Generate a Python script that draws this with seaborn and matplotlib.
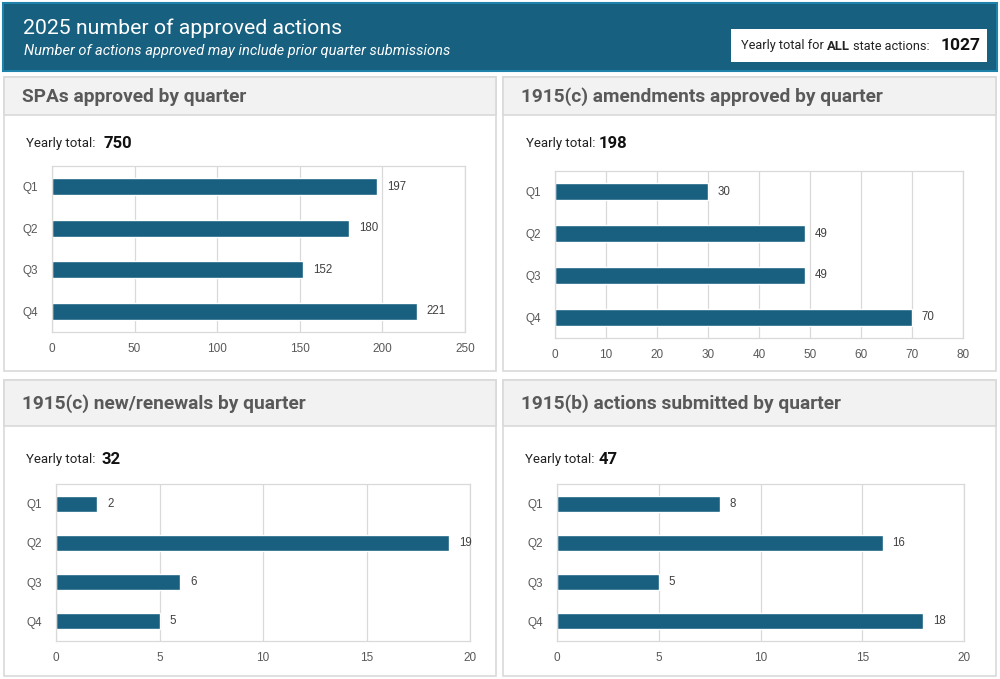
import matplotlib
matplotlib.use("Agg")
import matplotlib.pyplot as plt
from matplotlib.patches import Rectangle
from matplotlib.text import Annotation
import seaborn as sns

# data
quarters = ["Q1", "Q2", "Q3", "Q4"]
spa_vals = [197, 180, 152, 221]
amend_vals = [30, 49, 49, 70]
renew_vals = [2, 19, 6, 5]
b_vals = [8, 16, 5, 18]

panel_titles = ["SPAs approved by quarter",
                "1915(c) amendments approved by quarter",
                "1915(c) new/renewals by quarter",
                "1915(b) actions submitted by quarter"]
yearly_totals = [750, 198, 32, 47]
all_total = 1027
x_limits = [250, 80, 20, 20]
x_steps = [50, 10, 5, 5]

main_title = "2025 number of approved actions"
sub_title = "Number of actions approved may include prior quarter submissions"

BAR = "#185f80"
HEAD = "#17607f"
GRID = "#d9d9d9"

sns.set_theme(style="white")
plt.rcParams["font.family"] = ["Roboto", "DejaVu Sans"]

W, H = 1000, 679
fig = plt.figure(figsize=(W / 100, H / 100), dpi=100)


def fx(x):
    return x / W


def fy(y):
    return 1 - y / H


def box(x0, y0, x1, y1, **kw):
    fig.patches.append(Rectangle((fx(x0), fy(y1)), fx(x1) - fx(x0), fy(y0) - fy(y1),
                                 transform=fig.transFigure, figure=fig, zorder=-1, **kw))


def after(prev, s, gap, **kw):
    # place text right after another text, gap in points
    a = Annotation(s, xy=(1, 0.5), xycoords=prev, xytext=(gap, 0),
                   textcoords="offset points", va="center", ha="left", **kw)
    fig.add_artist(a)
    return a


# header
box(3, 3, 997, 71, facecolor=HEAD, edgecolor="#1f82ab", linewidth=1.5)
fig.text(fx(23), fy(28), main_title, color="white", fontsize=15.3, va="center")
fig.text(fx(24), fy(51), sub_title, color="white", fontsize=10.5, style="italic", va="center")
box(731, 29, 987, 62, facecolor="white", edgecolor="none")
t1 = fig.text(fx(741), fy(46), "Yearly total for", fontsize=9.2, va="center", color="#222222")
t2 = after(t1, "ALL", 2.2, fontsize=9.4, weight="bold", color="#222222")
t3 = after(t2, "state actions:", 2.2, fontsize=9.2, color="#222222")
fig.text(fx(941), fy(46), str(all_total), fontsize=12.5, va="center", weight="bold", color="#111111")

# panel frames (x0, y0, x1, y1, band bottom)
panels = [(4, 77, 496, 371, 115),
          (503, 77, 996, 371, 115),
          (4, 380, 496, 676, 426),
          (503, 380, 996, 676, 426)]
# axes rectangles in pixels (left, top, right, bottom)
axes_px = [(52, 166, 465, 332),
           (555, 171, 963, 338),
           (56, 484, 470, 641),
           (557, 484, 964, 641)]
total_pos = [(26, 144, 103), (526, 144, 599), (26, 460, 101), (525, 460, 599)]
series = [spa_vals, amend_vals, renew_vals, b_vals]

for i in range(4):
    x0, y0, x1, y1, yb = panels[i]
    box(x0, y0, x1, y1, facecolor="white", edgecolor=GRID, linewidth=1.2)
    box(x0, y0, x1, yb, facecolor="#f2f2f2", edgecolor=GRID, linewidth=1.2)
    fig.text(fx(x0 + 18), fy((y0 + yb) / 2 + 1), panel_titles[i], fontsize=13.8, weight="bold",
             color="#595959", va="center")
    tx, ty, vx = total_pos[i]
    fig.text(fx(tx), fy(ty), "Yearly total:", fontsize=9.5, va="center", color="#222222")
    fig.text(fx(vx), fy(ty), str(yearly_totals[i]), fontsize=12, weight="bold",
             va="center", color="#111111")

    l, t, r, b = axes_px[i]
    ax = fig.add_axes([fx(l), fy(b), fx(r) - fx(l), fy(t) - fy(b)])
    ax.set_zorder(2)
    ax.patch.set_alpha(0)
    sns.barplot(x=series[i], y=quarters, orient="h", color=BAR, saturation=1,
                width=0.41, ax=ax)
    ax.set_xlim(0, x_limits[i])
    ax.set_ylim(3.5, -0.5)
    ax.set_xticks(range(0, x_limits[i] + 1, x_steps[i]))
    ax.xaxis.grid(True, color=GRID, linewidth=0.9)
    ax.set_axisbelow(True)
    for s in ax.spines.values():
        s.set_color(GRID)
        s.set_linewidth(0.9)
    ax.tick_params(axis="both", length=0, labelsize=8.5, labelcolor="#595959")
    ax.tick_params(axis="x", pad=8)
    ax.tick_params(axis="y", pad=10)
    for lab in ax.get_xticklabels() + ax.get_yticklabels():
        lab.set_family(["Liberation Sans", "DejaVu Sans"])
    ax.set_xlabel("")
    ax.set_ylabel("")
    for c in ax.containers:
        lbls = ax.bar_label(c, padding=7, fontsize=8.3, color="#404040")
        for lb in lbls:
            lb.set_family(["Liberation Sans", "DejaVu Sans"])

fig.savefig("out.png", dpi=100)
